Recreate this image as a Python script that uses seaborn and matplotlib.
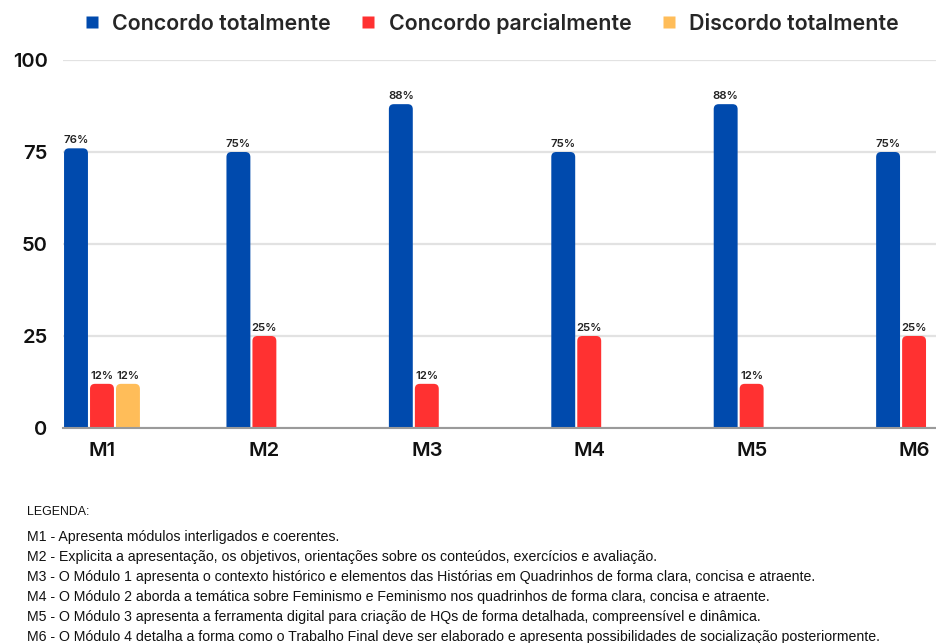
import matplotlib
matplotlib.use("Agg")
import matplotlib.pyplot as plt
from matplotlib.patches import FancyBboxPatch
from matplotlib.lines import Line2D
import seaborn as sns
import pandas as pd

modules = ["M1", "M2", "M3", "M4", "M5", "M6"]
series = ["Concordo totalmente", "Concordo parcialmente", "Discordo totalmente"]
concordo_total = [76, 75, 88, 75, 88, 75]
concordo_parcial = [12, 25, 12, 25, 12, 25]
discordo_total = [12, 0, 0, 0, 0, 0]
y_ticks = [0, 25, 50, 75, 100]
colors = ["#004aad", "#ff3131", "#ffbd59"]

notes_title = "LEGENDA:"
notes = [
    "M1 - Apresenta módulos interligados e coerentes.",
    "M2 - Explicita a apresentação, os objetivos, orientações sobre os conteúdos, exercícios e avaliação.",
    "M3 - O Módulo 1 apresenta o contexto histórico e elementos das Histórias em Quadrinhos de forma clara, concisa e atraente.",
    "M4 - O Módulo 2 aborda a temática sobre Feminismo e Feminismo nos quadrinhos de forma clara, concisa e atraente.",
    "M5 - O Módulo 3 apresenta a ferramenta digital para criação de HQs de forma detalhada, compreensível e dinâmica.",
    "M6 - O Módulo 4 detalha a forma como o Trabalho Final deve ser elaborado e apresenta possibilidades de socialização posteriormente.",
]

df = pd.DataFrame({
    "modulo": modules * 3,
    "serie": [series[0]] * 6 + [series[1]] * 6 + [series[2]] * 6,
    "valor": concordo_total + concordo_parcial + discordo_total,
})

sns.set_theme(style="white")
plt.rcParams["font.family"] = ["Inter", "DejaVu Sans"]

fig = plt.figure(figsize=(9.36, 6.43), dpi=100)
ax = fig.add_axes([63 / 936, 215 / 643, 873 / 936, 368 / 643])

sns.barplot(data=df, x="modulo", y="valor", hue="serie", hue_order=series,
            palette=colors, width=0.48, gap=0.08, ax=ax, legend=False,
            saturation=1, errorbar=None)

ax.set_ylim(0, 100)
ax.set_xlim(-0.24, 5.135)

# swap plain rectangles for bars with rounded tops
px_x = 1 / 162.6
px_y = 100 / 368
rad = 5
for bar in list(ax.patches):
    h = bar.get_height()
    if h <= 0:
        bar.remove()
        continue
    x0, w = bar.get_x(), bar.get_width()
    fc = bar.get_facecolor()
    bar.remove()
    rounded = FancyBboxPatch(
        (x0, -3), w, h + 3,
        boxstyle=f"round,pad=0,rounding_size={rad * px_x}",
        mutation_aspect=px_y / px_x,
        facecolor=fc, edgecolor="none", zorder=3,
    )
    ax.add_patch(rounded)
    ax.text(x0 + w / 2, h + 0.8, f"{h:.0f}%", ha="center", va="bottom",
            fontsize=8.2, fontweight="semibold", color="#222222", zorder=4)

ax.set_yticks(y_ticks)
ax.set_yticklabels([str(t) for t in y_ticks], fontsize=14.5, fontweight="semibold",
                   color="#111111")
ax.tick_params(axis="y", length=0, pad=11)
ax.tick_params(axis="x", length=0, pad=10, labelsize=14.5)
for lbl in ax.get_xticklabels():
    lbl.set_fontweight("semibold")
    lbl.set_color("#111111")
ax.set_xlabel("")
ax.set_ylabel("")
ax.grid(axis="y", color="#e2e2e2", linewidth=1.6, zorder=0)
ax.set_axisbelow(True)
for s in ["top", "right", "left"]:
    ax.spines[s].set_visible(False)
ax.spines["bottom"].set_color("#9a9a9a")
ax.spines["bottom"].set_linewidth(1.5)
ax.spines["bottom"].set_zorder(5)

handles = [Line2D([0], [0], marker="s", linestyle="none", markersize=8,
                  markerfacecolor=c, markeredgecolor="none") for c in colors]
fig.legend(handles, series, loc="center", bbox_to_anchor=(491 / 936, 1 - 23 / 643),
           ncol=3, frameon=False, handletextpad=0.55,
           columnspacing=1.35, handlelength=0.8,
           prop={"family": ["Inter", "DejaVu Sans"], "weight": "semibold", "size": 15.4})

fig.text(27 / 936, 1 - 512 / 643, notes_title, fontsize=8.9, va="center",
         family=["Liberation Sans", "DejaVu Sans"], color="#111111")
for i, line in enumerate(notes):
    fig.text(27 / 936, 1 - (537 + i * 19.9) / 643, line, fontsize=10.2, va="center",
             family=["Liberation Sans", "DejaVu Sans"], color="#111111")

fig.savefig("out.png", dpi=100)
